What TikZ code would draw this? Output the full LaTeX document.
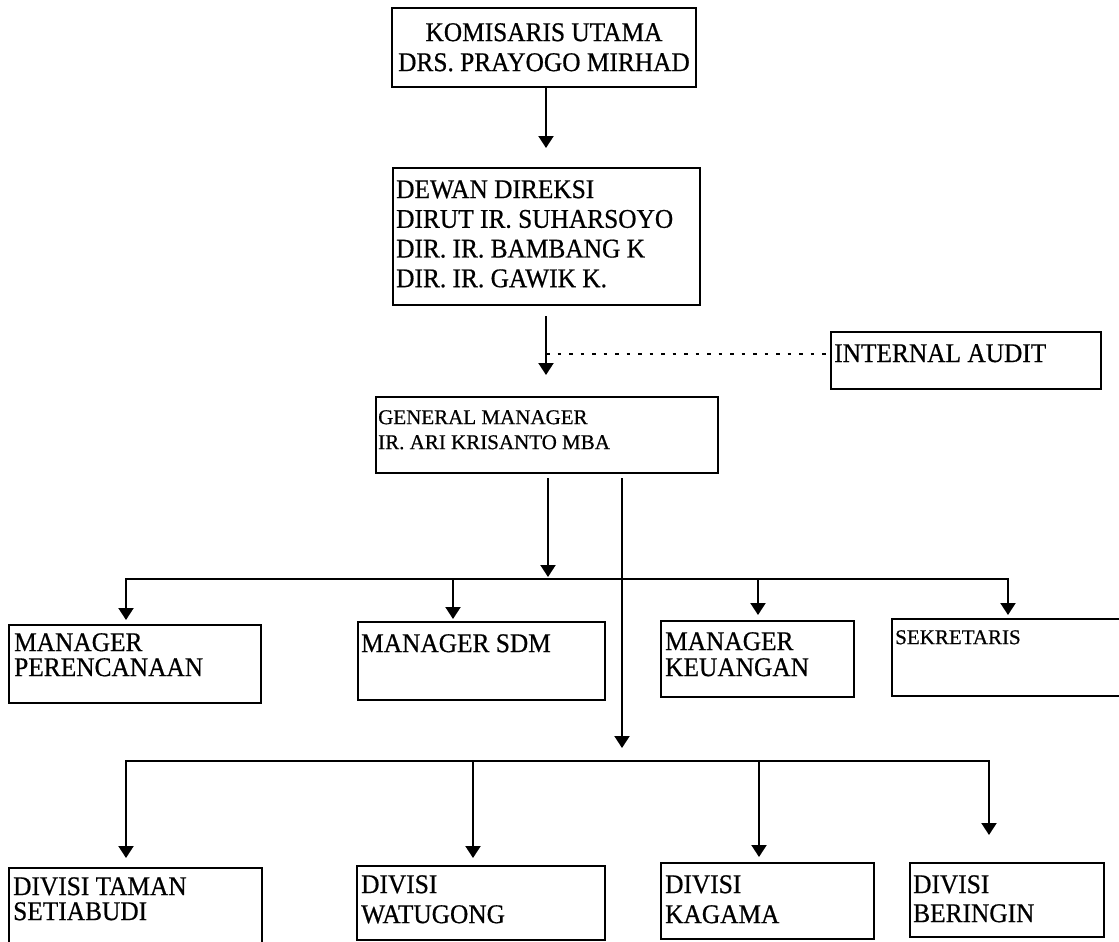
\documentclass[tikz,border=0pt]{standalone}
\usepackage{fontspec}
\setmainfont{Liberation Serif}[FakeBold=0.6]
\newfontfamily\bigserif{Liberation Serif}[FakeStretch=0.94,FakeBold=0.6]
\usetikzlibrary{arrows.meta}
\begin{document}
\begin{tikzpicture}[x=1pt,y=-1pt,
  box/.style={draw, line width=2.3pt, inner sep=0pt},
  big/.style={font=\bigserif\fontsize{27}{30}\selectfont, inner sep=0pt, align=left, anchor=north west},
  small/.style={font=\fontsize{21}{25}\selectfont, inner sep=0pt, align=left, anchor=north west},
  tip/.style={-{Triangle[width=15pt,length=12pt]}},
  arr/.style={line width=2.1pt, tip},
  arrtwo/.style={line width=2.1pt, line join=miter, {Triangle[width=15pt,length=12pt]}-{Triangle[width=15pt,length=12pt]}},
  dots/.style={line width=1.8pt, dash pattern=on 3.5pt off 8pt}]
\useasboundingbox (0,0) rectangle (1119,942);
% boxes
\node[box, minimum width=304pt, minimum height=79pt] (kom) at (544,47.5) {};
\node[box, minimum width=307pt, minimum height=137pt] (dew) at (546.5,236.5) {};
\node[box, minimum width=270pt, minimum height=57pt] (ia) at (966,360.5) {};
\node[box, minimum width=342pt, minimum height=76pt] (gm) at (547,435) {};
\node[box, minimum width=252pt, minimum height=78pt] (mper) at (135,664) {};
\node[box, minimum width=247pt, minimum height=78pt] (msdm) at (481.5,661) {};
\node[box, minimum width=193pt, minimum height=76pt] (mkeu) at (757.5,659) {};
\node[box, minimum width=233pt, minimum height=77pt] (sek) at (1008.5,657.5) {};
\node[box, minimum width=253pt, minimum height=77pt] (div1) at (135.5,906.5) {};
\node[box, minimum width=248pt, minimum height=74pt] (div2) at (481,903) {};
\node[box, minimum width=213pt, minimum height=76pt] (div3) at (767.5,901) {};
\node[box, minimum width=194pt, minimum height=74pt] (div4) at (1007,900) {};
% texts
\node[big, anchor=north, align=center] (komt) at (544,23) {KOMISARIS UTAMA\\DRS. PRAYOGO MIRHAD};
\node[big, font=\bigserif\fontsize{27}{29.7}\selectfont] (dewt) at (396,180) {DEWAN DIREKSI\\DIRUT IR. SUHARSOYO\\DIR. IR. BAMBANG K\\DIR. IR. GAWIK K.};
\node[big] (iat) at (834,344) {INTERNAL AUDIT};
\node[small] (gmt) at (378,410) {GENERAL MANAGER\\IR. ARI KRISANTO MBA};
\node[big, font=\bigserif\fontsize{27}{25}\selectfont] (mpert) at (14,633) {MANAGER\\PERENCANAAN};
\node[big] (msdmt) at (361,634) {MANAGER SDM};
\node[big, font=\bigserif\fontsize{27}{26}\selectfont] (mkeut) at (665,632) {MANAGER\\KEUANGAN};
\node[small] (sekt) at (895,630) {SEKRETARIS};
\node[big, font=\bigserif\fontsize{27}{25}\selectfont] (div1t) at (13,877) {DIVISI TAMAN\\SETIABUDI};
\node[big] (div2t) at (361,875) {DIVISI\\WATUGONG};
\node[big] (div3t) at (665,875) {DIVISI\\KAGAMA};
\node[big, font=\bigserif\fontsize{27}{29}\selectfont] (div4t) at (913,875) {DIVISI\\BERINGIN};
% connector coordinates
\coordinate (t1) at (546,148);
\coordinate (s2) at (546,316);
\coordinate (t2) at (546,375);
\coordinate (d1) at (546,354);
\coordinate (g1) at (548,478);
\coordinate (g1t) at (548,577);
\coordinate (g2) at (622,478);
\coordinate (g2t) at (622,748);
\coordinate (mbl) at (126,579);
\coordinate (mbr) at (1008,579);
\coordinate (m1) at (126,620);
\coordinate (m2s) at (453,579);
\coordinate (m2) at (453,619);
\coordinate (m3s) at (758,579);
\coordinate (m3) at (758,615);
\coordinate (m4) at (1008,615);
\coordinate (dbl) at (126,761);
\coordinate (dbr) at (989,761);
\coordinate (v1) at (126,858);
\coordinate (v2s) at (473,761);
\coordinate (v2) at (473,858);
\coordinate (v3s) at (759,761);
\coordinate (v3) at (759,857);
\coordinate (v4) at (989,835);
% connectors
\draw[arr] (kom.south -| t1) -- (t1);
\draw[arr] (s2) -- (t2);
\draw[dots] (d1) -- (d1 -| ia.west);
\draw[arr] (g1) -- (g1t);
\draw[arr] (g2) -- (g2t);
\draw[arrtwo] (m1) -- (mbl) -- (mbr) -- (m4);
\draw[arr] (m2s) -- (m2);
\draw[arr] (m3s) -- (m3);
\draw[arrtwo] (v1) -- (dbl) -- (dbr) -- (v4);
\draw[arr] (v2s) -- (v2);
\draw[arr] (v3s) -- (v3);
\end{tikzpicture}
\end{document}
